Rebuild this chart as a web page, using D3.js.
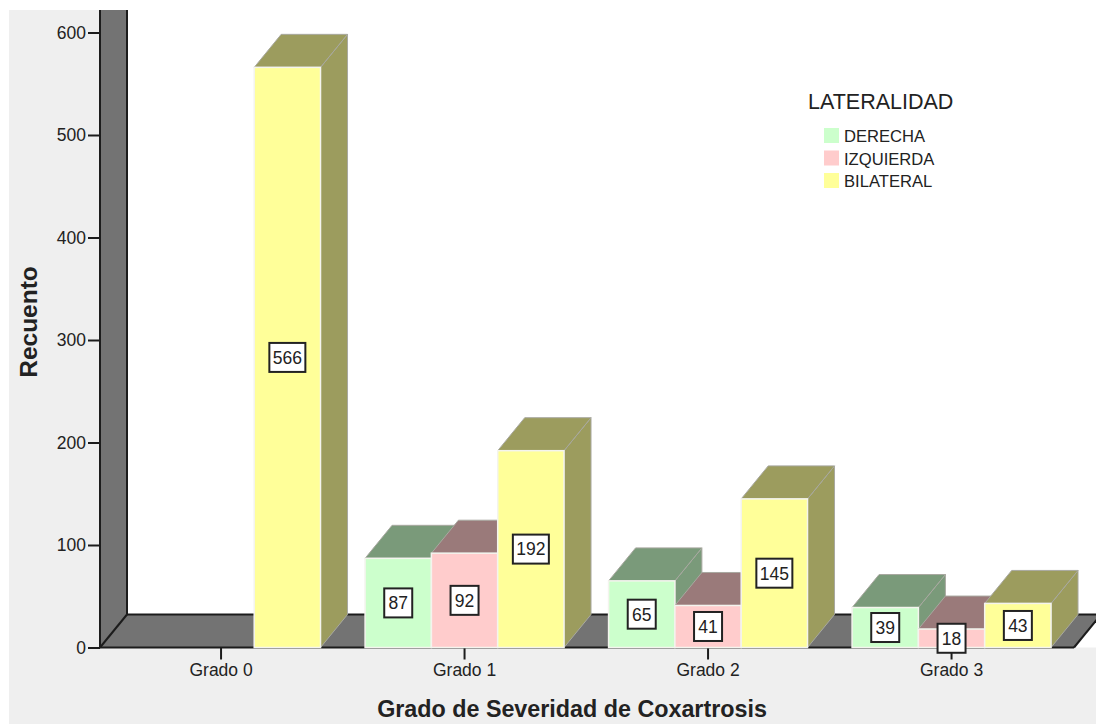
<!DOCTYPE html>
<html>
<head>
<meta charset="utf-8">
<script src="https://cdn.jsdelivr.net/npm/d3@7"></script>
<style>
  html, body { margin: 0; padding: 0; background: #fff; }
  svg { display: block; }
  text { font-family: "Liberation Sans", Arial, sans-serif; fill: #222; }
</style>
</head>
<body>
<script>
const categories = ['Grado 0', 'Grado 1', 'Grado 2', 'Grado 3'];
const sides = ['DERECHA', 'IZQUIERDA', 'BILATERAL'];
const derecha = [0, 87, 65, 39];
const izquierda = [0, 92, 41, 18];
const bilateral = [566, 192, 145, 43];
const yTicks = [0, 100, 200, 300, 400, 500, 600];

const width = 1096;
const height = 724;
const plotLeft = 100, plotRight = 1074, plotTop = 10, plotBottom = 647.5;
const depthX = 27, depthY = -33;

const colors = d3.scaleOrdinal().domain(sides).range(['#ccffcc', '#ffcccc', '#ffff99']);
const dark = d3.scaleOrdinal().domain(sides).range(['#7a9a7a', '#9a7a7a', '#9c9c5e']);

const y = d3.scaleLinear().domain([0, 600]).range([plotBottom, 32.5]);
const x = d3.scaleBand().domain(categories).range([plotLeft - 0.7, plotRight - 0.7]);
const x1 = d3.scaleBand().domain(sides).range([0, x.bandwidth()]).paddingOuter(0.336).paddingInner(0);

const svg = d3.select('body').append('svg')
  .attr('width', width)
  .attr('height', height);

// background
svg.append('rect').attr('x', 9).attr('y', plotTop).attr('width', width - 9).attr('height', height - plotTop).attr('fill', '#efefef');
svg.append('rect').attr('x', plotLeft).attr('y', plotTop).attr('width', width - plotLeft).attr('height', plotBottom - plotTop).attr('fill', '#fff');

const poly = pts => pts.map(p => p.join(',')).join(' ');

// wall and floor
svg.append('polygon')
  .attr('points', poly([[plotLeft, plotBottom], [plotLeft + depthX, plotBottom + depthY], [plotLeft + depthX, plotTop], [plotLeft, plotTop]]))
  .attr('fill', '#737373');
svg.append('polygon')
  .attr('points', poly([[plotLeft, plotBottom], [plotRight, plotBottom], [plotRight + depthX, plotBottom + depthY], [plotLeft + depthX, plotBottom + depthY]]))
  .attr('fill', '#737373');

const wallLines = [
  [plotLeft, plotBottom, plotLeft, plotTop],
  [plotLeft + depthX, plotBottom + depthY, plotLeft + depthX, plotTop],
  [plotLeft, plotBottom, plotLeft + depthX, plotBottom + depthY],
  [plotLeft, plotBottom, plotRight, plotBottom],
  [plotLeft + depthX, plotBottom + depthY, plotRight + depthX, plotBottom + depthY],
  [plotRight, plotBottom, plotRight + depthX, plotBottom + depthY],
];
svg.append('g').selectAll('line').data(wallLines).join('line')
  .attr('x1', d => d[0]).attr('y1', d => d[1])
  .attr('x2', d => d[2]).attr('y2', d => d[3])
  .attr('stroke', '#1c1c1c').attr('stroke-width', 2);

// axes
const yAxis = svg.append('g')
  .attr('transform', `translate(${plotLeft},0)`)
  .call(d3.axisLeft(y).tickValues(yTicks).tickSize(12).tickPadding(2));
const xAxis = svg.append('g')
  .attr('transform', `translate(0,${plotBottom})`)
  .call(d3.axisBottom(x).tickSize(12).tickPadding(4));
[yAxis, xAxis].forEach(a => {
  a.select('.domain').remove();
  a.selectAll('line').attr('stroke', '#1c1c1c').attr('stroke-width', 2);
  a.selectAll('text').attr('font-size', 17.5).attr('font-family', '"Liberation Sans"').attr('fill', '#333');
});

// bars, left to right so each one covers the side of the previous
const rows = [];
categories.forEach((c, i) => {
  [derecha, izquierda, bilateral].forEach((s, j) => {
    if (s[i] > 0) rows.push({ cat: c, side: sides[j], value: s[i] });
  });
});

const bars = svg.append('g').selectAll('g').data(rows).join('g');
const x0 = d => x(d.cat) + x1(d.side);
const x2 = d => x0(d) + x1.bandwidth();

bars.append('polygon')
  .attr('points', d => poly([[x2(d), plotBottom], [x2(d) + depthX, plotBottom + depthY], [x2(d) + depthX, y(d.value) + depthY], [x2(d), y(d.value)]]))
  .attr('fill', d => dark(d.side))
  .attr('stroke', '#a8a8a0').attr('stroke-width', 1);
bars.append('polygon')
  .attr('points', d => poly([[x0(d), y(d.value)], [x2(d), y(d.value)], [x2(d) + depthX, y(d.value) + depthY], [x0(d) + depthX, y(d.value) + depthY]]))
  .attr('fill', d => dark(d.side))
  .attr('stroke', '#a8a8a0').attr('stroke-width', 1);
bars.append('rect')
  .attr('x', d => x0(d))
  .attr('y', d => y(d.value))
  .attr('width', x1.bandwidth())
  .attr('height', d => plotBottom - y(d.value))
  .attr('fill', d => colors(d.side))
  .attr('stroke', '#f4f4ee').attr('stroke-width', 1.5);

// value labels
const labels = svg.append('g').selectAll('g').data(rows).join('g')
  .attr('transform', d => `translate(${x0(d) + x1.bandwidth() / 2},${y(d.value / 2)})`);
labels.append('rect')
  .attr('x', d => d.value >= 100 ? -18 : -14)
  .attr('y', -14.5)
  .attr('width', d => d.value >= 100 ? 36 : 28)
  .attr('height', 29)
  .attr('fill', '#fff')
  .attr('stroke', '#222').attr('stroke-width', 2);
labels.append('text')
  .attr('text-anchor', 'middle')
  .attr('dy', '0.36em')
  .attr('font-size', 17.5)
  .text(d => d.value);

// axis titles
svg.append('text')
  .attr('x', 572).attr('y', 717)
  .attr('text-anchor', 'middle')
  .attr('font-size', 23.3).attr('font-weight', 'bold').attr('fill', '#111')
  .text('Grado de Severidad de Coxartrosis');
svg.append('text')
  .attr('transform', 'translate(37,322) rotate(-90)')
  .attr('text-anchor', 'middle')
  .attr('font-size', 24.5).attr('font-weight', 'bold').attr('fill', '#111')
  .text('Recuento');

// legend
svg.append('text')
  .attr('x', 808).attr('y', 109)
  .attr('font-size', 21.5)
  .text('LATERALIDAD');
const legend = svg.append('g').selectAll('g').data(sides).join('g')
  .attr('transform', (d, i) => `translate(824,${128 + i * 22.5})`);
legend.append('rect')
  .attr('width', 15).attr('height', 15)
  .attr('fill', d => colors(d));
legend.append('text')
  .attr('x', 20).attr('y', 14)
  .attr('font-size', 16.6)
  .text(d => d);
</script>
</body>
</html>
